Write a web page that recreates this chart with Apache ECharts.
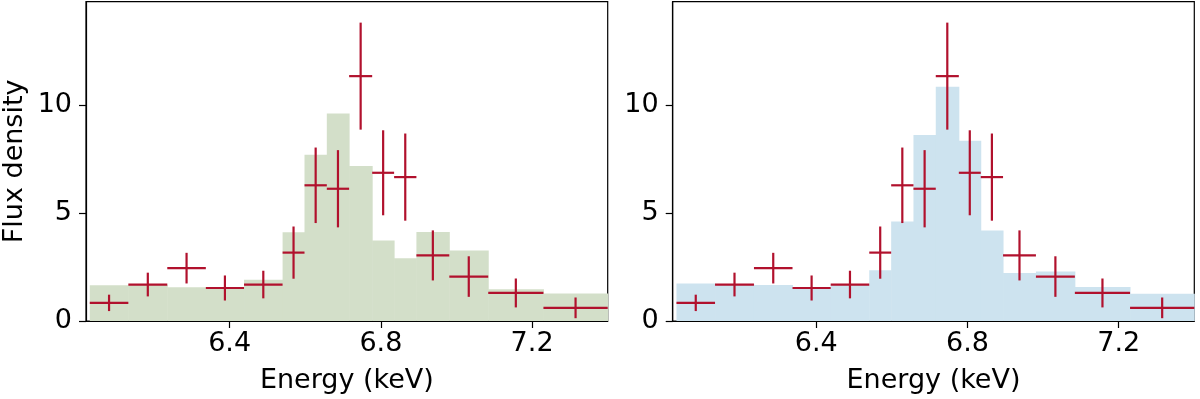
<!DOCTYPE html>
<html>
<head>
<meta charset="utf-8">
<script src="https://cdn.jsdelivr.net/npm/echarts@6/dist/echarts.min.js"></script>
<style>
html,body{margin:0;padding:0;background:#fff;}
#chart{width:1200px;height:399px;}
</style>
</head>
<body>
<div id="chart"></div>
<script>
// Bin edges (keV)
const binEdges = [6.030, 6.132, 6.235, 6.337, 6.438, 6.540, 6.598, 6.657, 6.716, 6.777, 6.835, 6.894, 6.981, 7.084, 7.230, 7.400];
// Observed flux density and 1-sigma errors
const fluxObs = [0.84, 1.69, 2.45, 1.53, 1.69, 3.17, 6.29, 6.13, 11.35, 6.87, 6.67, 3.04, 2.06, 1.30, 0.61];
const fluxErr = [0.38, 0.55, 0.71, 0.58, 0.64, 1.21, 1.75, 1.79, 2.48, 1.97, 2.02, 1.16, 0.94, 0.67, 0.48];
// Model histograms
const modelLeft  = [1.66, 1.68, 1.57, 1.55, 1.91, 4.11, 7.71, 9.62, 7.18, 3.73, 2.91, 4.13, 3.27, 1.47, 1.27];
const modelRight = [1.74, 1.70, 1.67, 1.57, 1.69, 2.35, 4.61, 8.62, 10.86, 8.36, 4.20, 2.22, 2.30, 1.58, 1.26];
// Axis ticks
const xTicks = [6.4, 6.8, 7.2];
const yTicks = [0, 5, 10];
const xLabel = 'Energy (keV)';
const yLabel = 'Flux density';

const FONT = 'DejaVu Sans';
const FS = 27;
const RED = '#b1112d';
const GREEN = '#d3dfc9';
const BLUE = '#cde3ef';

function histSeries(vals, color, idx) {
  return {
    type: 'custom', xAxisIndex: idx, yAxisIndex: idx, z: 1,
    data: vals.map((v, i) => [binEdges[i], binEdges[i + 1], v]),
    encode: {x: [0, 1], y: 2},
    renderItem: function (params, api) {
      const p0 = api.coord([api.value(0), api.value(2)]);
      const p1 = api.coord([api.value(1), 0]);
      return {type: 'rect', shape: {x: p0[0], y: p0[1], width: p1[0] - p0[0] + 0.5, height: p1[1] - p0[1]},
        style: {fill: color}};
    },
    silent: true
  };
}
function crossSeries(idx) {
  return {
    type: 'custom', xAxisIndex: idx, yAxisIndex: idx, z: 5,
    data: fluxObs.map((v, i) => [binEdges[i], binEdges[i + 1], v, fluxErr[i]]),
    encode: {x: [0, 1], y: 2},
    renderItem: function (params, api) {
      const lo = api.value(0), hi = api.value(1), v = api.value(2), e = api.value(3);
      const xc = (lo + hi) / 2;
      const a = api.coord([lo, v]), b = api.coord([hi, v]);
      const c = api.coord([xc, v - e]), d = api.coord([xc, v + e]);
      return {type: 'group', children: [
        {type: 'line', shape: {x1: a[0], y1: a[1], x2: b[0], y2: b[1]}, style: {stroke: RED, lineWidth: 2.2}},
        {type: 'line', shape: {x1: c[0], y1: c[1], x2: d[0], y2: d[1]}, style: {stroke: RED, lineWidth: 2.2}}
      ]};
    },
    silent: true
  };
}
function xAxis(idx) {
  return {
    type: 'value', gridIndex: idx, min: 6.02, max: 7.40,
    name: xLabel, nameLocation: 'middle', nameGap: 46,
    nameTextStyle: {fontFamily: FONT, fontSize: FS, color: '#000'},
    axisLine: {show: true, lineStyle: {color: '#000', width: 1.2}},
    axisTick: {show: true, inside: false, length: 7, lineStyle: {color: '#000', width: 1.2}, customValues: xTicks},
    axisLabel: {fontFamily: FONT, fontSize: FS, color: '#000', margin: 9, customValues: xTicks,
      formatter: v => v.toFixed(1)},
    splitLine: {show: false}
  };
}
function yAxis(idx, withName) {
  return {
    type: 'value', gridIndex: idx, min: 0, max: 14.8,
    name: withName ? yLabel : '', nameLocation: 'middle', nameGap: 58,
    nameTextStyle: {fontFamily: FONT, fontSize: FS, color: '#000'},
    axisLine: {show: true, lineStyle: {color: '#000', width: 1.2}},
    axisTick: {show: true, inside: false, length: 7, lineStyle: {color: '#000', width: 1.2}, customValues: yTicks},
    axisLabel: {fontFamily: FONT, fontSize: FS, color: '#000', margin: 14, customValues: yTicks},
    splitLine: {show: false}
  };
}

const chart = echarts.init(document.getElementById('chart'), null, {renderer: 'canvas'});
chart.setOption({
  animation: false,
  backgroundColor: '#fff',
  grid: [
    {left: 86, right: 1200 - 607.7, top: 1.7, bottom: 399 - 323.3, show: true, borderColor: '#000', borderWidth: 1.2, backgroundColor: 'transparent'},
    {left: 672.7, right: 1200 - 1194.3, top: 1.7, bottom: 399 - 323.3, show: true, borderColor: '#000', borderWidth: 1.2, backgroundColor: 'transparent'}
  ],
  xAxis: [xAxis(0), xAxis(1)],
  yAxis: [yAxis(0, true), yAxis(1, false)],
  series: [histSeries(modelLeft, GREEN, 0), crossSeries(0), histSeries(modelRight, BLUE, 1), crossSeries(1)]
});
</script>
</body>
</html>
